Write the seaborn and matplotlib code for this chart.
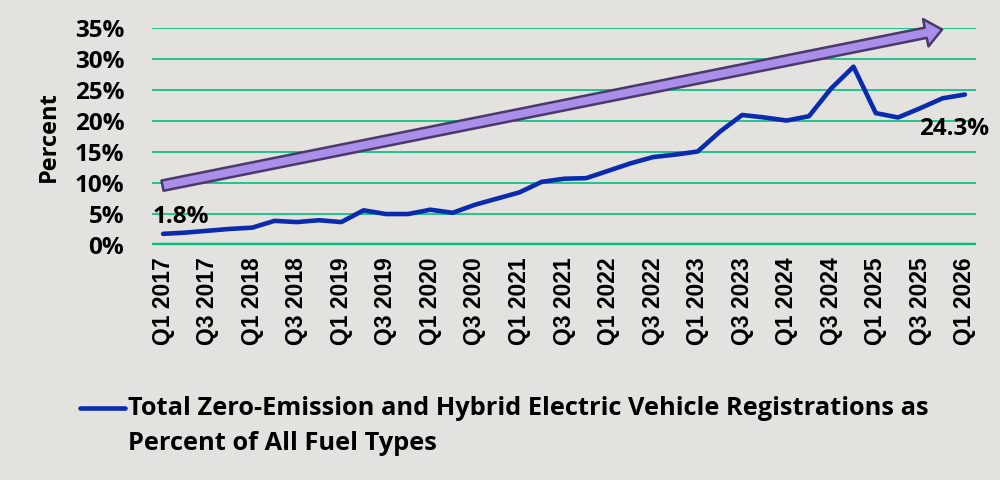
import matplotlib
matplotlib.use("Agg")
import matplotlib.pyplot as plt
import seaborn as sns
import pandas as pd
import numpy as np
from matplotlib.patches import FancyArrowPatch
from matplotlib.lines import Line2D
from matplotlib.ticker import FuncFormatter
from matplotlib.font_manager import FontProperties

quarters = [f"Q{q} {y}" for y in range(2017, 2026) for q in (1, 2, 3, 4)] + ["Q1 2026"]
values = [1.8, 2.0, 2.3, 2.6, 2.8, 3.9, 3.7, 4.0, 3.7, 5.6, 5.0, 5.0, 5.7, 5.2,
          6.5, 7.5, 8.5, 10.2, 10.7, 10.8, 12.0, 13.2, 14.2, 14.6, 15.1, 18.3,
          21.0, 20.6, 20.1, 20.8, 25.3, 28.8, 21.3, 20.6, 22.1, 23.7, 24.3]
yticks = [0, 5, 10, 15, 20, 25, 30, 35]
series_name = "Total Zero-Emission and Hybrid Electric Vehicle Registrations as\nPercent of All Fuel Types"

BG = "#E3E2DE"
GRID = "#00C07E"
LINE = "#0A2BAE"

df = pd.DataFrame({"idx": np.arange(len(quarters)), "quarter": quarters, "value": values})

sns.set_style("white")
plt.rcParams["font.family"] = ["Open Sans", "DejaVu Sans"]
plt.rcParams["text.color"] = "black"
plt.rcParams["axes.labelcolor"] = "black"
plt.rcParams["xtick.color"] = "black"
plt.rcParams["ytick.color"] = "black"

fig = plt.figure(figsize=(10, 4.8), dpi=100, facecolor=BG)
ax = fig.add_axes([0.152, 0.4896, 0.824, 0.4514])
ax.set_facecolor(BG)

for t in yticks:
    ax.axhline(t, color=GRID, lw=3.2 if t == 0 else 1.2, zorder=1)

sns.lineplot(data=df, x="idx", y="value", ax=ax, color=LINE, lw=3.3,
             zorder=3, legend=False)

ax.set_xlim(-0.5, len(quarters) - 0.5)
ax.set_ylim(0, 35)
ax.set_yticks(yticks)
ax.yaxis.set_major_formatter(FuncFormatter(lambda v, p: f"{v:.0f}%"))
ax.set_xticks(df["idx"][::2])
ax.set_xticklabels(df["quarter"][::2], rotation=90)
xfp = FontProperties(family=["Liberation Sans", "DejaVu Sans"], weight="bold", size=16.5)
for lab in ax.get_xticklabels():
    lab.set_fontproperties(xfp)
for lab in ax.get_yticklabels():
    lab.set_fontweight("bold")
    lab.set_fontsize(17.5)
ax.tick_params(axis="y", length=0, pad=20)
ax.tick_params(axis="x", length=0, pad=9)
for s in ax.spines.values():
    s.set_visible(False)
ax.set_xlabel("")
ax.set_ylabel("Percent", fontsize=17, fontweight="bold")
ax.yaxis.set_label_coords(-0.110, 0.5)

# trend arrow
arrow = FancyArrowPatch((-0.15, 9.5), (35.1, 34.9),
                        arrowstyle="simple,head_length=1.2,head_width=2.0,tail_width=0.75",
                        mutation_scale=10, facecolor="#A98EEA", edgecolor="#4A3A6A",
                        lw=1.8, zorder=4, clip_on=False)
ax.add_patch(arrow)

# data labels
ax.annotate(f"{values[0]:.1f}%", (df["idx"].iloc[0], values[0]), xytext=(13, 12),
            textcoords="offset points", ha="center", va="center",
            fontsize=17.5, fontweight="bold", zorder=5)
ax.annotate(f"{values[-1]:.1f}%", (df["idx"].iloc[-1], values[-1]), xytext=(-8, -25),
            textcoords="offset points", ha="center", va="center",
            fontsize=17.5, fontweight="bold", zorder=5)

# legend (handle aligned with first text line)
fig.add_artist(Line2D([0.080, 0.125], [1 - 408 / 480, 1 - 408 / 480],
                      transform=fig.transFigure, color=LINE, lw=3.3,
                      solid_capstyle="round"))
lfp = FontProperties(family=["Open Sans", "DejaVu Sans"], weight="bold",
                     stretch="condensed", size=18.3)
for k, line in enumerate(series_name.split("\n")):
    fig.text(0.128, 1 - (415 + 35 * k) / 480, line, ha="left", va="baseline",
             fontproperties=lfp)

fig.savefig("out.png", dpi=100, facecolor=BG)
